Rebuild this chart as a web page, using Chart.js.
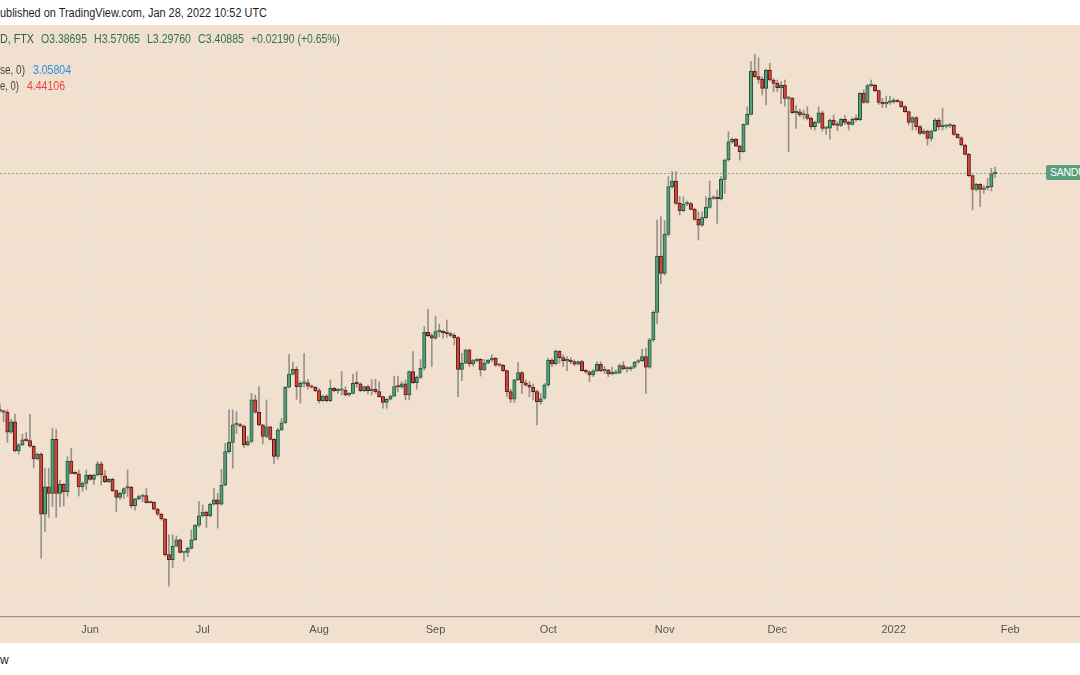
<!DOCTYPE html>
<html>
<head>
<meta charset="utf-8">
<title>SANDUSD 1D FTX</title>
<script src="https://cdn.jsdelivr.net/npm/chart.js@4.4.1/dist/chart.umd.min.js"></script>
<style>
    html, body { margin: 0; padding: 0; background: #ffffff; }
    body {
        width: 1080px; height: 675px; position: relative; overflow: hidden;
        font-family: "Liberation Sans", Arial, sans-serif;
    }
    #pane { position: absolute; left: 0; top: 25px; width: 1080px; height: 618px; background: #f2e0cf; }
    #pane canvas { position: absolute; left: 0; top: 0; }
    .t {
        position: absolute; white-space: nowrap; font-size: 12px; line-height: 14px;
        display: inline-block; transform-origin: 0 50%;
    }
    #lastLabel {
        position: absolute; left: 1046px; height: 15px; line-height: 15px; padding: 0 4px;
        background: #5b9f7c; color: #ffffff; font-size: 10.5px; border-radius: 2px 0 0 2px;
        white-space: nowrap; letter-spacing: -0.3px;
    }
</style>
</head>
<body>
<div class="t" style="left:0;top:6px;color:#1f1f1f" data-w="267">ublished on TradingView.com, Jan 28, 2022 10:52 UTC</div>
<div id="pane"><canvas id="chart" width="1080" height="618"></canvas></div>

<div class="t" style="left:0;top:32px;color:#35594a" data-w="34">D, FTX</div>
<div class="t" style="left:41px;top:32px;color:#2f7150" data-w="46">O3.38695</div>
<div class="t" style="left:94px;top:32px;color:#2f7150" data-w="46">H3.57065</div>
<div class="t" style="left:147px;top:32px;color:#2f7150" data-w="44">L3.29760</div>
<div class="t" style="left:198px;top:32px;color:#2f7150" data-w="46">C3.40885</div>
<div class="t" style="left:251px;top:32px;color:#2f7150" data-w="89">+0.02190 (+0.65%)</div>

<div class="t" style="left:0;top:63px;color:#444444" data-w="25">se, 0)</div>
<div class="t" style="left:33px;top:63px;color:#2a8be6" data-w="38">3.05804</div>
<div class="t" style="left:0;top:79px;color:#444444" data-w="19">e, 0)</div>
<div class="t" style="left:27px;top:79px;color:#e9433c" data-w="38">4.44106</div>

<div id="lastLabel">SANDUSD</div>
<div class="t" style="left:0;top:653px;color:#1f1f1f">w</div>

<script>
// SAND / USD daily candles, FTX, from 2021-05-08 (index 0) to 2022-01-28
const startDate = '2021-05-08';

const opens = [
    0.551, 0.546, 0.541, 0.464, 0.503, 0.402, 0.421, 0.438, 0.435, 0.417,
    0.378, 0.392, 0.247, 0.305, 0.290, 0.439, 0.290, 0.311, 0.294, 0.372,
    0.338, 0.337, 0.305, 0.313, 0.334, 0.323, 0.334, 0.364, 0.332, 0.317,
    0.323, 0.296, 0.281, 0.290, 0.305, 0.304, 0.264, 0.278, 0.283, 0.285,
    0.270, 0.271, 0.257, 0.247, 0.238, 0.181, 0.174, 0.193, 0.203, 0.184,
    0.184, 0.190, 0.203, 0.227, 0.244, 0.251, 0.244, 0.267, 0.276, 0.267,
    0.309, 0.400, 0.429, 0.491, 0.492, 0.487, 0.421, 0.432, 0.595, 0.541,
    0.491, 0.449, 0.484, 0.439, 0.385, 0.472, 0.499, 0.656, 0.726, 0.753,
    0.659, 0.676, 0.678, 0.662, 0.656, 0.639, 0.592, 0.613, 0.592, 0.651,
    0.639, 0.641, 0.642, 0.618, 0.626, 0.676, 0.674, 0.639, 0.659, 0.639,
    0.646, 0.634, 0.610, 0.584, 0.598, 0.613, 0.659, 0.657, 0.673, 0.618,
    0.740, 0.679, 0.708, 0.759, 1.001, 0.976, 0.956, 1.006, 1.009, 0.998,
    0.991, 0.978, 0.961, 0.753, 0.789, 0.874, 0.785, 0.805, 0.813, 0.749,
    0.789, 0.809, 0.819, 0.778, 0.777, 0.745, 0.634, 0.598, 0.694, 0.734,
    0.679, 0.667, 0.656, 0.634, 0.587, 0.603, 0.668, 0.809, 0.785, 0.867,
    0.824, 0.803, 0.809, 0.799, 0.783, 0.799, 0.745, 0.738, 0.721, 0.744,
    0.783, 0.744, 0.749, 0.727, 0.730, 0.733, 0.775, 0.755, 0.757, 0.765,
    0.795, 0.805, 0.830, 0.765, 0.944, 1.167, 1.800, 1.575, 2.127, 3.069,
    3.205, 2.699, 2.551, 2.686, 2.692, 2.577, 2.386, 2.284, 2.417, 2.617,
    2.805, 2.826, 2.791, 3.247, 3.766, 4.336, 4.415, 4.194, 4.015, 4.955,
    5.352, 7.470, 7.152, 7.006, 6.537, 7.528, 6.970, 6.794, 6.570, 6.707,
    6.053, 6.068, 5.420, 5.462, 5.324, 5.338, 5.189, 4.867, 5.032, 5.420,
    4.805, 4.817, 5.124, 4.931, 4.919, 5.150, 5.033, 4.956, 5.150, 5.137,
    6.291, 5.870, 6.674, 6.691, 6.420, 5.870, 5.796, 5.870, 5.885, 5.976,
    5.900, 5.678, 5.463, 5.033, 5.216, 4.869, 4.624, 4.708, 4.450, 4.708,
    5.124, 4.869, 4.881, 4.894, 4.919, 4.588, 4.472, 4.227, 3.934, 3.339,
    3.005, 3.123, 3.005, 3.044, 3.066, 3.38695
];

const highs = [
    0.577, 0.549, 0.551, 0.513, 0.534, 0.426, 0.457, 0.463, 0.533, 0.419,
    0.395, 0.396, 0.352, 0.352, 0.478, 0.475, 0.321, 0.313, 0.385, 0.410,
    0.343, 0.347, 0.317, 0.347, 0.336, 0.336, 0.370, 0.370, 0.347, 0.326,
    0.326, 0.298, 0.293, 0.303, 0.347, 0.306, 0.279, 0.286, 0.288, 0.301,
    0.273, 0.272, 0.259, 0.249, 0.239, 0.211, 0.211, 0.209, 0.204, 0.185,
    0.192, 0.219, 0.228, 0.272, 0.265, 0.253, 0.269, 0.301, 0.290, 0.349,
    0.426, 0.551, 0.551, 0.544, 0.497, 0.491, 0.449, 0.626, 0.618, 0.659,
    0.492, 0.595, 0.487, 0.442, 0.478, 0.516, 0.659, 0.845, 0.795, 0.769,
    0.685, 0.852, 0.697, 0.667, 0.659, 0.651, 0.618, 0.620, 0.694, 0.656,
    0.651, 0.740, 0.659, 0.629, 0.726, 0.740, 0.679, 0.662, 0.667, 0.694,
    0.697, 0.685, 0.613, 0.602, 0.618, 0.715, 0.712, 0.685, 0.694, 0.745,
    0.863, 0.715, 0.813, 1.045, 1.195, 0.993, 1.135, 1.067, 1.019, 1.100,
    1.003, 0.993, 0.968, 0.852, 0.878, 0.878, 0.813, 0.819, 0.817, 0.813,
    0.813, 0.841, 0.826, 0.783, 0.783, 0.749, 0.646, 0.697, 0.793, 0.740,
    0.694, 0.685, 0.673, 0.642, 0.626, 0.676, 0.820, 0.817, 0.874, 0.869,
    0.841, 0.830, 0.824, 0.809, 0.803, 0.809, 0.753, 0.744, 0.753, 0.799,
    0.797, 0.769, 0.753, 0.765, 0.749, 0.785, 0.799, 0.769, 0.769, 0.801,
    0.813, 0.878, 0.885, 0.956, 1.182, 2.374, 2.436, 2.362, 3.314, 3.444,
    3.443, 2.841, 2.841, 2.748, 2.720, 2.597, 2.531, 2.531, 2.841, 3.205,
    2.860, 2.990, 3.314, 3.795, 4.683, 4.472, 4.449, 4.227, 4.980, 5.677,
    8.026, 8.490, 8.277, 7.152, 7.586, 7.924, 7.060, 6.970, 6.881, 6.970,
    6.130, 6.084, 5.720, 5.575, 5.532, 5.677, 5.256, 5.084, 5.677, 5.490,
    4.867, 5.163, 5.325, 5.059, 5.190, 5.298, 5.085, 5.216, 5.325, 6.324,
    6.455, 6.742, 6.971, 6.759, 6.455, 6.054, 6.146, 6.146, 6.054, 6.006,
    5.930, 5.722, 5.491, 5.255, 5.255, 4.931, 4.781, 4.745, 4.745, 5.190,
    5.190, 5.605, 4.956, 4.994, 4.956, 4.624, 4.506, 4.249, 3.964, 3.356,
    3.148, 3.140, 3.092, 3.271, 3.532, 3.57065
];

const lows = [
    0.542, 0.503, 0.429, 0.460, 0.399, 0.392, 0.419, 0.433, 0.413, 0.353,
    0.375, 0.176, 0.216, 0.241, 0.262, 0.241, 0.262, 0.263, 0.284, 0.337,
    0.336, 0.284, 0.294, 0.298, 0.321, 0.311, 0.331, 0.309, 0.315, 0.315,
    0.294, 0.252, 0.276, 0.279, 0.283, 0.259, 0.255, 0.276, 0.272, 0.269,
    0.269, 0.255, 0.244, 0.236, 0.179, 0.142, 0.164, 0.192, 0.183, 0.172,
    0.178, 0.189, 0.202, 0.224, 0.242, 0.223, 0.242, 0.265, 0.222, 0.265,
    0.307, 0.395, 0.352, 0.460, 0.482, 0.412, 0.417, 0.428, 0.537, 0.487,
    0.424, 0.445, 0.437, 0.365, 0.377, 0.470, 0.497, 0.651, 0.721, 0.598,
    0.580, 0.656, 0.646, 0.651, 0.634, 0.580, 0.587, 0.586, 0.587, 0.634,
    0.626, 0.618, 0.613, 0.613, 0.623, 0.656, 0.634, 0.634, 0.623, 0.618,
    0.626, 0.607, 0.558, 0.558, 0.595, 0.610, 0.634, 0.651, 0.595, 0.595,
    0.673, 0.646, 0.702, 0.749, 0.968, 0.769, 0.948, 0.968, 0.956, 0.963,
    0.968, 0.908, 0.610, 0.690, 0.785, 0.769, 0.772, 0.797, 0.715, 0.745,
    0.785, 0.799, 0.769, 0.769, 0.740, 0.610, 0.583, 0.583, 0.690, 0.626,
    0.662, 0.610, 0.595, 0.491, 0.575, 0.598, 0.659, 0.769, 0.779, 0.789,
    0.769, 0.745, 0.785, 0.773, 0.779, 0.742, 0.730, 0.685, 0.712, 0.738,
    0.738, 0.730, 0.712, 0.721, 0.727, 0.727, 0.749, 0.736, 0.745, 0.759,
    0.789, 0.799, 0.626, 0.759, 0.932, 1.067, 1.451, 1.555, 2.100, 3.030,
    2.679, 2.467, 2.531, 2.651, 2.564, 2.368, 2.036, 2.255, 2.405, 2.597,
    2.784, 2.314, 2.770, 2.915, 3.737, 4.281, 4.173, 3.766, 3.995, 4.930,
    5.324, 7.115, 6.794, 6.210, 5.750, 6.916, 6.371, 6.371, 5.824, 5.706,
    4.015, 5.393, 4.805, 5.256, 5.163, 5.124, 4.780, 4.744, 4.994, 4.708,
    4.588, 4.426, 4.894, 4.720, 4.869, 4.956, 4.745, 4.931, 5.059, 5.098,
    5.826, 5.826, 6.623, 6.372, 5.780, 5.634, 5.634, 5.780, 5.826, 5.870,
    5.634, 5.435, 4.931, 4.745, 4.745, 4.565, 4.588, 4.227, 4.360, 4.684,
    4.745, 4.745, 4.806, 4.831, 4.542, 4.450, 4.195, 3.914, 3.314, 2.564,
    2.967, 2.630, 2.914, 2.990, 2.967, 3.2976
];

const closes = [
    0.546, 0.541, 0.464, 0.503, 0.402, 0.421, 0.438, 0.435, 0.417, 0.378,
    0.392, 0.247, 0.305, 0.290, 0.439, 0.290, 0.311, 0.294, 0.372, 0.338,
    0.337, 0.305, 0.313, 0.334, 0.323, 0.334, 0.364, 0.334, 0.317, 0.323,
    0.296, 0.281, 0.290, 0.301, 0.302, 0.264, 0.278, 0.283, 0.285, 0.270,
    0.271, 0.257, 0.247, 0.238, 0.181, 0.174, 0.193, 0.203, 0.184, 0.1845,
    0.190, 0.203, 0.227, 0.244, 0.251, 0.244, 0.267, 0.276, 0.267, 0.309,
    0.400, 0.429, 0.491, 0.492, 0.487, 0.421, 0.432, 0.595, 0.542, 0.491,
    0.449, 0.484, 0.439, 0.385, 0.472, 0.499, 0.656, 0.726, 0.753, 0.659,
    0.676, 0.678, 0.662, 0.656, 0.639, 0.592, 0.613, 0.592, 0.651, 0.639,
    0.641, 0.642, 0.618, 0.626, 0.676, 0.674, 0.639, 0.659, 0.639, 0.642,
    0.634, 0.610, 0.584, 0.598, 0.613, 0.659, 0.657, 0.673, 0.618, 0.740,
    0.679, 0.708, 0.759, 1.001, 0.976, 0.956, 1.006, 1.009, 0.998, 0.991,
    0.978, 0.961, 0.753, 0.789, 0.874, 0.785, 0.805, 0.813, 0.749, 0.789,
    0.809, 0.819, 0.778, 0.777, 0.745, 0.634, 0.598, 0.694, 0.734, 0.679,
    0.667, 0.656, 0.634, 0.586, 0.600, 0.668, 0.809, 0.785, 0.867, 0.824,
    0.803, 0.809, 0.799, 0.783, 0.799, 0.745, 0.738, 0.721, 0.744, 0.783,
    0.744, 0.749, 0.727, 0.730, 0.736, 0.775, 0.755, 0.757, 0.765, 0.795,
    0.805, 0.830, 0.765, 0.944, 1.167, 1.800, 1.575, 2.127, 3.069, 3.205,
    2.699, 2.551, 2.686, 2.692, 2.577, 2.386, 2.284, 2.417, 2.617, 2.805,
    2.826, 2.791, 3.247, 3.766, 4.336, 4.415, 4.194, 4.015, 4.955, 5.352,
    7.470, 7.152, 7.006, 6.537, 7.528, 6.970, 6.794, 6.570, 6.707, 6.053,
    6.068, 5.420, 5.462, 5.324, 5.338, 5.189, 4.867, 5.032, 5.420, 4.805,
    4.817, 5.124, 4.931, 4.919, 5.150, 5.033, 4.956, 5.150, 5.137, 6.291,
    5.870, 6.674, 6.691, 6.420, 5.870, 5.796, 5.870, 5.885, 5.976, 5.900,
    5.678, 5.463, 5.033, 5.216, 4.869, 4.624, 4.708, 4.450, 4.708, 5.124,
    4.869, 4.881, 4.894, 4.919, 4.588, 4.472, 4.227, 3.934, 3.339, 3.005,
    3.123, 3.005, 3.044, 3.066, 3.38695, 3.40885
];

// month ticks, as candle index counted from startDate
const monthTicks = [24, 54, 85, 116, 146, 177, 207, 238, 269];
const monthLabels = ['Jun', 'Jul', 'Aug', 'Sep', 'Oct', 'Nov', 'Dec', '2022', 'Feb'];

// horizontal grid levels of the log price scale
const priceGrid = [8.53, 6.52, 5.01, 4.01, 3.245, 2.504, 1.999, 1.625, 1.249, 1.0,
                   0.813, 0.658, 0.532, 0.406, 0.326, 0.265, 0.204, 0.166, 0.134];

const lastPrice = 3.40885;

const UP = { fill: '#55a07b', line: '#22553b' };
const DOWN = { fill: '#d4463a', line: '#571b13' };
const GRID = '#e8e4e1';
const LABEL_LEFT = 1046;

const isUp = closes.map((c, i) => c >= opens[i]);

const wickSet = {
    label: 'wick',
    data: highs.map((h, i) => ({ x: i, y: [lows[i], h] })),
    backgroundColor: 'rgba(105, 102, 99, 0.65)',
    borderWidth: 0,
    barThickness: 1,
    grouped: false,
    order: 2,
};

const bodySet = {
    label: 'body',
    data: opens.map((o, i) => ({ x: i, y: [o, closes[i]] })),
    backgroundColor: isUp.map(u => (u ? UP.fill : DOWN.fill)),
    borderColor: isUp.map(u => (u ? UP.line : DOWN.line)),
    borderWidth: 1,
    borderSkipped: false,
    barThickness: 3.4,
    minBarLength: 1.5,
    grouped: false,
    order: 1,
};

// dotted last-price line, positioned through the y scale
const lastPriceLine = {
    id: 'lastPriceLine',
    beforeDatasetsDraw(chart) {
        const { ctx, chartArea, scales } = chart;
        const y = Math.round(scales.y.getPixelForValue(lastPrice)) + 0.5;
        ctx.save();
        ctx.strokeStyle = 'rgba(80, 150, 110, 0.7)';
        ctx.lineWidth = 1;
        ctx.setLineDash([2, 2]);
        ctx.beginPath();
        ctx.moveTo(chartArea.left, y);
        ctx.lineTo(LABEL_LEFT, y);
        ctx.stroke();
        ctx.restore();
    },
};

const chart = new Chart(document.getElementById('chart').getContext('2d'), {
    type: 'bar',
    data: { datasets: [wickSet, bodySet] },
    options: {
        responsive: false,
        animation: false,
        layout: { padding: 0 },
        plugins: {
            legend: { display: false },
            tooltip: { enabled: false },
        },
        scales: {
            x: {
                type: 'linear',
                min: 0.03,
                max: 287.6,
                offset: false,
                grid: { color: GRID, lineWidth: 1.3, offset: false, drawTicks: false },
                border: { display: true, color: '#9a948f', width: 1.2 },
                afterBuildTicks(scale) {
                    scale.ticks = monthTicks.map(v => ({ value: v }));
                },
                afterFit(scale) { scale.height = 26; },
                ticks: {
                    padding: 6,
                    color: '#555555',
                    font: { family: 'Liberation Sans', size: 11 },
                    maxRotation: 0,
                    autoSkip: false,
                    callback: (value) => monthLabels[monthTicks.indexOf(value)] || '',
                },
            },
            y: {
                type: 'logarithmic',
                min: 0.11203,
                max: 10.642,
                bounds: 'data',
                grid: { color: GRID, lineWidth: 1.3, drawTicks: false },
                border: { display: false },
                ticks: { display: false },
                afterBuildTicks(scale) {
                    scale.ticks = priceGrid.map(v => ({ value: v }));
                },
                afterFit(scale) { scale.width = 0; },
            },
        },
    },
    plugins: [lastPriceLine],
});

// symbol label on the last price
const labelY = chart.scales.y.getPixelForValue(lastPrice);
document.getElementById('lastLabel').style.top = (25 + labelY - 7.5) + 'px';

// squeeze the header texts to the widths they take in the reference
document.querySelectorAll('[data-w]').forEach(el => {
    const w = el.getBoundingClientRect().width;
    el.style.transform = `scaleX(${el.dataset.w / w})`;
});
</script>
</body>
</html>
